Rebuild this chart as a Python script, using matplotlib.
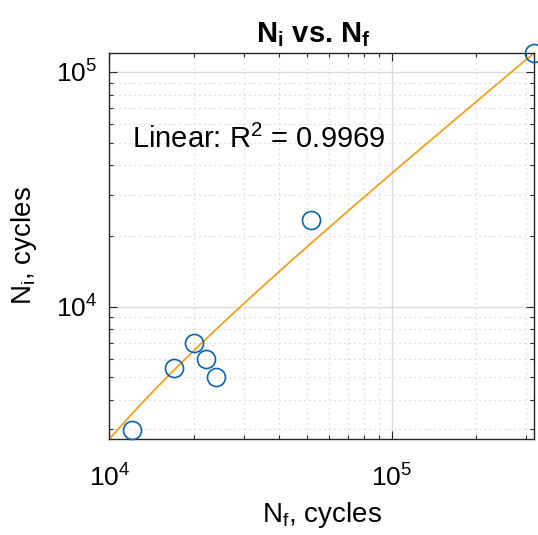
import numpy as np
import matplotlib
matplotlib.use('Agg')
import matplotlib.pyplot as plt
from matplotlib.ticker import LogLocator, NullFormatter

plt.rcParams['font.family'] = ['Liberation Sans', 'DejaVu Sans']
plt.rcParams['mathtext.fontset'] = 'custom'
plt.rcParams['mathtext.rm'] = 'Liberation Sans'
plt.rcParams['mathtext.bf'] = 'Liberation Sans:bold'

# cycles to failure vs cycles to initiation
Nf = [1.20e4, 1.70e4, 2.00e4, 2.20e4, 2.39e4, 5.20e4, 3.20e5]
Ni = [2990, 5485, 6980, 5980, 4990, 23400, 1.20e5]
r2_label = "0.9969"

# linear fit in linear space, drawn on log axes
a, b = np.polyfit(Nf, Ni, 1)
xfit = np.logspace(4, np.log10(max(Nf)), 200)
yfit = a * xfit + b

fig = plt.figure(figsize=(5.38, 5.35), dpi=100)
ax = fig.add_axes([0.2035, 0.1794, 0.7891, 0.7215])

ax.plot(Nf, Ni, 'o', mfc='none', mec='#0a64ad', mew=1.2, ms=13, zorder=3, clip_on=False)
ax.plot(xfit, yfit, '-', color='#F5A01A', lw=1.3, zorder=2)

ax.set_xscale('log')
ax.set_yscale('log')
ax.set_xlim(1e4, max(Nf))
ax.set_ylim(yfit[0], max(yfit.max(), max(Ni)))

ax.xaxis.set_major_locator(LogLocator(base=10))
ax.yaxis.set_major_locator(LogLocator(base=10))
ax.xaxis.set_minor_locator(LogLocator(base=10, subs=np.arange(2, 10)))
ax.yaxis.set_minor_locator(LogLocator(base=10, subs=np.arange(2, 10)))
ax.xaxis.set_minor_formatter(NullFormatter())
ax.yaxis.set_minor_formatter(NullFormatter())

ax.grid(True, which='major', color='#dcdcdc', lw=1.0, ls='-')
ax.grid(True, which='minor', color='#c8c8c8', lw=0.8, ls=(0, (1, 3.5)))
ax.set_axisbelow(True)

ax.tick_params(which='both', direction='in', top=True, right=True, labelsize=19, width=0.8,
               colors='#262626', labelcolor='black')
ax.tick_params(which='major', length=6)
ax.tick_params(axis='x', which='major', pad=18)
ax.tick_params(axis='y', which='major', pad=9)
ax.tick_params(which='minor', length=3)
for s in ax.spines.values():
    s.set_color('#262626')
    s.set_linewidth(1.0)

ax.set_title(r'N$_\mathbf{i}$ vs. N$_\mathbf{f}$', fontsize=21, fontweight='bold', pad=8,
             x=0.48)
ax.set_xlabel(r'N$_\mathregular{f}$, cycles', fontsize=20, labelpad=6)
ax.set_ylabel(r'N$_\mathregular{i}$, cycles', fontsize=20, labelpad=12)

ax.text(0.053, 0.755, r'Linear: R$^\mathregular{2}$ = ' + r2_label, transform=ax.transAxes,
        fontsize=21, color='black')

fig.savefig('out.png', dpi=100)
